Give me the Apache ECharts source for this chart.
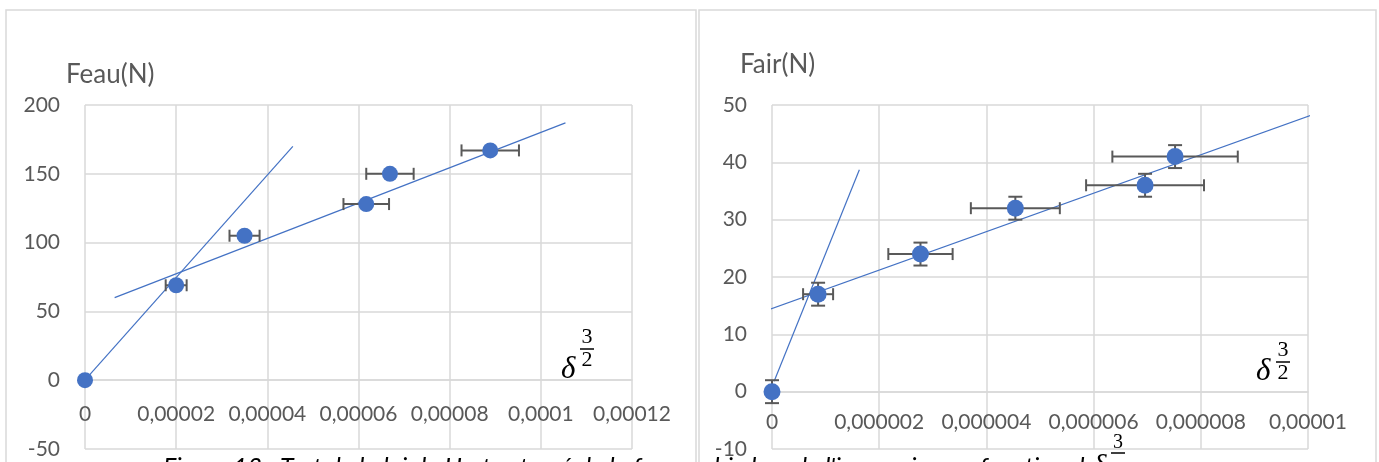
<!DOCTYPE html>
<html>
<head>
<meta charset="utf-8">
<script src="https://cdn.jsdelivr.net/npm/echarts@6/dist/echarts.min.js"></script>
<style>
  html, body { margin: 0; padding: 0; background: #ffffff; }
  #chart { width: 1379px; height: 462px; }
</style>
</head>
<body>
<div id="chart"></div>
<script>
// Immersion in water: force Feau (N) against delta^(3/2)
const feauX    = [0, 0.00002, 0.000035, 0.0000617, 0.0000669, 0.0000889];
const feauY    = [0, 69, 105, 128, 150, 167];
const feauXErr = [0, 0.0000023, 0.0000033, 0.000005, 0.0000052, 0.0000063];
const feauYErr = [0, 0, 0, 0, 0, 0];
// Trend lines (end points) drawn on the water plot
const feauFitSteep  = [[-0.0000015, -5.5], [0.0000456, 170]];
const feauFitLinear = [[0.0000065, 60], [0.0001054, 187]];

// Contact in air: force Fair (N) against delta^(3/2)
const fairX    = [0, 0.00000086, 0.00000277, 0.00000454, 0.00000696, 0.00000752];
const fairY    = [0, 17, 24, 32, 36, 41];
const fairXErr = [0, 0.00000028, 0.0000006, 0.00000083, 0.0000011, 0.00000117];
const fairYErr = [2, 2, 2, 2, 2, 2];
const fairFitSteep  = [[0.00000004, 1.8], [0.00000163, 38.7]];
const fairFitLinear = [[-0.00000003, 14.4], [0.0000102, 48.7]];

// Axis ranges
const feauXRange = { min: 0, max: 0.00012, interval: 0.00002 };
const feauYRange = { min: -50, max: 200, interval: 50 };
const fairXRange = { min: 0, max: 0.00001, interval: 0.000002 };
const fairYRange = { min: -10, max: 50, interval: 10 };

const axisTitles = ['Feau(N)', 'Fair(N)'];
const captionText = "Figure 13 : Test de la loi de Hertz : tracé de la force subie lors de l'immersion en fonction de ";

const TEXT = '#595959';
const GRID = '#D9D9D9';
const BLUE = '#4472C4';
const FONT = 'Lato, "Open Sans", sans-serif';
const MATH = '"Liberation Serif", "DejaVu Serif", serif';

const grids = [
  { left: 85, top: 105, width: 547, height: 344 },
  { left: 772, top: 105, width: 536, height: 344 }
];

function frenchNumber(v) {
  if (v === 0) return '0';
  return String(parseFloat(v.toPrecision(8))).replace('.', ',');
}

function zip(xs, ys) { return xs.map((x, i) => [x, ys[i]]); }
function errRows(xs, ys, ex, ey) { return xs.map((x, i) => [x, ys[i], ex[i], ey[i]]); }

function errorBars(params, api) {
  const x = api.value(0), y = api.value(1), ex = api.value(2), ey = api.value(3);
  const style = { stroke: TEXT, lineWidth: 2 };
  const kids = [];
  if (ex > 0) {
    const a = api.coord([x - ex, y]), b = api.coord([x + ex, y]);
    kids.push({ type: 'line', shape: { x1: a[0], y1: a[1], x2: b[0], y2: b[1] }, style });
    kids.push({ type: 'line', shape: { x1: a[0], y1: a[1] - 6, x2: a[0], y2: a[1] + 6 }, style });
    kids.push({ type: 'line', shape: { x1: b[0], y1: b[1] - 6, x2: b[0], y2: b[1] + 6 }, style });
  }
  if (ey > 0) {
    const a = api.coord([x, y - ey]), b = api.coord([x, y + ey]);
    kids.push({ type: 'line', shape: { x1: a[0], y1: a[1], x2: b[0], y2: b[1] }, style });
    kids.push({ type: 'line', shape: { x1: a[0] - 7, y1: a[1], x2: a[0] + 7, y2: a[1] }, style });
    kids.push({ type: 'line', shape: { x1: b[0] - 7, y1: b[1], x2: b[0] + 7, y2: b[1] }, style });
  }
  return { type: 'group', children: kids };
}

// The horizontal axis (line and labels) sits on y = 0, lifted from the grid bottom
function xAxis(range, yRange, gridIndex, margin) {
  const lift = grids[gridIndex].height * (0 - yRange.min) / (yRange.max - yRange.min);
  return {
    type: 'value', gridIndex, min: range.min, max: range.max, interval: range.interval,
    position: 'bottom', offset: -lift,
    axisLine: { show: true, onZero: false, lineStyle: { color: GRID, width: 1.5 } },
    axisTick: { show: false },
    splitLine: { show: true, lineStyle: { color: GRID, width: 1.5 } },
    axisLabel: { color: TEXT, fontFamily: FONT, fontSize: 21, margin, formatter: frenchNumber,
                 showMinLabel: true, showMaxLabel: true }
  };
}
function yAxis(range, gridIndex) {
  return {
    type: 'value', gridIndex, min: range.min, max: range.max, interval: range.interval,
    axisLine: { show: false }, axisTick: { show: false },
    splitLine: { show: true, lineStyle: { color: GRID, width: 1.5 } },
    axisLabel: { color: TEXT, fontFamily: FONT, fontSize: 21, margin: 25, formatter: frenchNumber }
  };
}

function fitLine(points, idx) {
  return {
    type: 'line', xAxisIndex: idx, yAxisIndex: idx, data: points, symbol: 'none',
    clip: false, silent: true, z: 2, animation: false,
    lineStyle: { color: BLUE, width: 1.2 }
  };
}

// delta^(3/2) drawn as delta with a stacked fraction exponent
function deltaPow(dx, dy, fx, y3, yBar, y2) {
  return [
    { type: 'text', x: dx, y: dy, style: { text: 'δ', font: 'italic 31px ' + MATH, fill: '#000', verticalAlign: 'middle' } },
    { type: 'text', x: fx, y: y3, style: { text: '3', font: '22px ' + MATH, fill: '#000', align: 'center', verticalAlign: 'middle' } },
    { type: 'line', shape: { x1: fx - 7, y1: yBar, x2: fx + 7, y2: yBar }, style: { stroke: '#000', lineWidth: 1.5 } },
    { type: 'text', x: fx, y: y2, style: { text: '2', font: '22px ' + MATH, fill: '#000', align: 'center', verticalAlign: 'middle' } }
  ];
}

const chart = echarts.init(document.getElementById('chart'), null, { renderer: 'canvas' });

chart.setOption({
  animation: false,
  backgroundColor: '#ffffff',
  grid: grids.map(g => Object.assign({ containLabel: false, outerBoundsMode: 'none' }, g)),
  xAxis: [xAxis(feauXRange, feauYRange, 0, 24), xAxis(fairXRange, fairYRange, 1, 20)],
  yAxis: [yAxis(feauYRange, 0), yAxis(fairYRange, 1)],
  series: [
    fitLine(feauFitSteep, 0),
    fitLine(feauFitLinear, 0),
    fitLine(fairFitSteep, 1),
    fitLine(fairFitLinear, 1),
    { type: 'custom', xAxisIndex: 0, yAxisIndex: 0, renderItem: errorBars, clip: false, z: 3,
      data: errRows(feauX, feauY, feauXErr, feauYErr), encode: { x: 0, y: 1 } },
    { type: 'custom', xAxisIndex: 1, yAxisIndex: 1, renderItem: errorBars, clip: false, z: 3,
      data: errRows(fairX, fairY, fairXErr, fairYErr), encode: { x: 0, y: 1 } },
    { type: 'scatter', xAxisIndex: 0, yAxisIndex: 0, symbolSize: 16, z: 4,
      itemStyle: { color: BLUE, opacity: 1 }, data: zip(feauX, feauY) },
    { type: 'scatter', xAxisIndex: 1, yAxisIndex: 1, symbolSize: 17, z: 4,
      itemStyle: { color: BLUE, opacity: 1 }, data: zip(fairX, fairY) }
  ],
  graphic: [
    { type: 'rect', shape: { x: 6, y: 10, width: 690, height: 470 }, style: { fill: 'none', stroke: GRID, lineWidth: 1.5 }, silent: true },
    { type: 'rect', shape: { x: 699, y: 10, width: 677, height: 470 }, style: { fill: 'none', stroke: GRID, lineWidth: 1.5 }, silent: true },
    { type: 'text', x: 66, y: 75, style: { text: axisTitles[0], font: '26px ' + FONT, fill: TEXT, verticalAlign: 'middle' } },
    { type: 'text', x: 740, y: 65, style: { text: axisTitles[1], font: '26px ' + FONT, fill: TEXT, verticalAlign: 'middle' } },
    ...deltaPow(561, 370, 587, 337, 349, 360),
    ...deltaPow(1256, 372, 1283, 350, 362, 373),
    { type: 'text', x: 163, y: 455, z: 100, style: { text: captionText, font: 'italic 25px ' + FONT, fill: '#000', verticalAlign: 'top' } },
    { type: 'text', x: 1118, y: 443, z: 100, style: { text: '3', font: '20px ' + MATH, fill: '#000', align: 'center', verticalAlign: 'middle' } },
    { type: 'line', z: 100, shape: { x1: 1111, y1: 453, x2: 1125, y2: 453 }, style: { stroke: '#000', lineWidth: 1.5 } },
    { type: 'text', x: 1092, y: 452, z: 100, style: { text: 'δ', font: 'italic 31px ' + MATH, fill: '#000', verticalAlign: 'top' } }
  ]
});
</script>
</body>
</html>
